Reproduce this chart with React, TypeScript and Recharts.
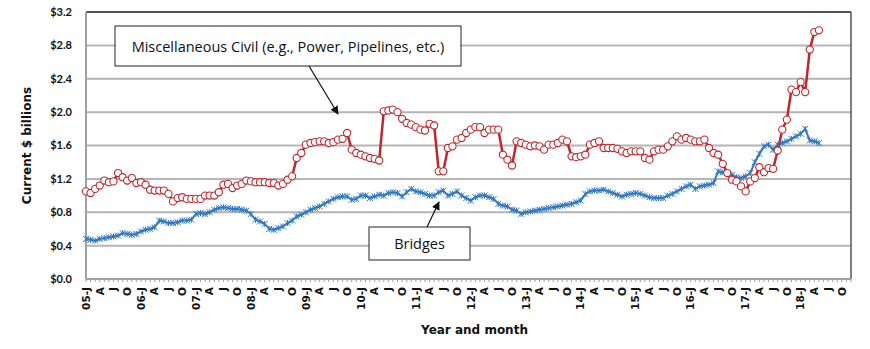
import React from 'react';
import { LineChart, Line, XAxis, YAxis, CartesianGrid, ReferenceLine } from 'recharts';

// monthly, Jan 2005 .. May 2018 (axis runs to Dec 2018)
const years = ['05', '06', '07', '08', '09', '10', '11', '12', '13', '14', '15', '16', '17', '18'];
const quarterLetters = ['J', '', '', 'A', '', '', 'J', '', '', 'O', '', ''];

const misc = [
  1.05, 1.03, 1.08, 1.12, 1.18, 1.16, 1.17, 1.27, 1.22, 1.18, 1.21, 1.15,
  1.16, 1.13, 1.07, 1.06, 1.06, 1.06, 1.02, 0.93, 0.97, 0.98, 0.96, 0.96,
  0.96, 0.96, 1.0, 1.0, 1.0, 1.04, 1.13, 1.14, 1.09, 1.12, 1.14, 1.18,
  1.17, 1.16, 1.16, 1.16, 1.15, 1.15, 1.12, 1.14, 1.19, 1.23, 1.45, 1.51,
  1.61, 1.63, 1.64, 1.65, 1.65, 1.63, 1.64, 1.67, 1.68, 1.75, 1.55, 1.51,
  1.49, 1.47, 1.45, 1.44, 1.42, 2.01, 2.02, 2.03, 2.0, 1.92, 1.87, 1.85,
  1.82, 1.79, 1.78, 1.86, 1.84, 1.29, 1.29, 1.57, 1.59, 1.67, 1.69, 1.75,
  1.79, 1.82, 1.82, 1.75, 1.79, 1.79, 1.79, 1.49, 1.43, 1.36, 1.65, 1.63,
  1.61, 1.59, 1.6, 1.59, 1.55, 1.61, 1.61, 1.63, 1.67, 1.65, 1.47, 1.46,
  1.47, 1.49, 1.61, 1.63, 1.65, 1.57, 1.57, 1.57, 1.56, 1.53, 1.51, 1.53,
  1.53, 1.53, 1.45, 1.43, 1.53, 1.55, 1.55, 1.59, 1.65, 1.71, 1.67, 1.69,
  1.67, 1.65, 1.65, 1.67, 1.57, 1.51, 1.49, 1.38, 1.27, 1.19, 1.17, 1.11,
  1.05, 1.17, 1.21, 1.34, 1.28, 1.33, 1.32, 1.54, 1.79, 1.91, 2.27, 2.24,
  2.36, 2.24, 2.75, 2.96, 2.98,
];

const bridges = [
  0.48, 0.47, 0.46, 0.48, 0.49, 0.5, 0.51, 0.52, 0.55, 0.54, 0.53, 0.54,
  0.57, 0.59, 0.6, 0.62, 0.7, 0.69, 0.67, 0.67, 0.68, 0.7, 0.7, 0.71,
  0.78, 0.79, 0.78, 0.8, 0.83, 0.85, 0.86, 0.85, 0.84, 0.84, 0.83, 0.82,
  0.78, 0.71, 0.69, 0.66, 0.6, 0.59, 0.61, 0.63, 0.67, 0.7, 0.75, 0.77,
  0.8, 0.83, 0.85, 0.87, 0.9, 0.93, 0.96, 0.98, 0.99, 0.99, 0.95, 0.96,
  1.0, 1.0, 0.97, 0.99, 1.01, 1.0, 1.03, 1.04, 1.03, 0.99, 1.04, 1.08,
  1.05, 1.04, 1.02, 1.0, 1.0, 1.04, 1.06, 1.0, 1.02, 1.05, 1.0, 0.97,
  0.94, 0.98, 1.0, 1.0, 0.98, 0.96, 0.9, 0.88, 0.87, 0.83, 0.82, 0.78,
  0.8, 0.81, 0.82, 0.83, 0.84, 0.85, 0.86, 0.87, 0.88, 0.89, 0.9, 0.92,
  0.94, 1.02, 1.05, 1.06, 1.06, 1.07, 1.05, 1.03, 1.01, 0.99, 1.01, 1.02,
  1.03, 1.02, 1.0, 0.98, 0.97, 0.97, 0.97, 1.0, 1.02, 1.05, 1.08, 1.11,
  1.13, 1.08, 1.11, 1.12, 1.13, 1.15, 1.29, 1.28, 1.27, 1.25, 1.22, 1.21,
  1.23, 1.27, 1.4, 1.5, 1.59, 1.61, 1.55, 1.61, 1.63, 1.65, 1.68, 1.71,
  1.74, 1.8, 1.66, 1.65, 1.63,
];

const yTicks = [0, 0.4, 0.8, 1.2, 1.6, 2.0, 2.4, 2.8, 3.2];

const data = years.flatMap((yy, y) =>
  quarterLetters.map((q, m) => {
    const i = y * 12 + m;
    return {
      idx: i,
      label: m === 0 ? `${yy}-J` : q,
      misc: i < misc.length ? misc[i] : null,
      bridges: i < bridges.length ? bridges[i] : null,
    };
  })
);

const RED = '#c0272d';
const BLUE = '#2f78c0';
const TICKFONT = 'Lato, "DejaVu Sans", sans-serif';
const WIDEFONT = '"DejaVu Sans", sans-serif';
const NOTEFONT = '"Open Sans", Lato, sans-serif';

const MonthTick = (props: any) => {
  const { x, y, payload } = props;
  const lab = data[payload.value] ? data[payload.value].label : '';
  if (!lab) return <g />;
  const ty = y + 3;
  return (
    <text
      x={x}
      y={ty}
      transform={`rotate(-90 ${x} ${ty})`}
      textAnchor="end"
      dy="0.36em"
      fontSize={10.5}
      fontWeight={700}
      fontFamily={WIDEFONT}
      fill="#111"
    >
      {lab}
    </text>
  );
};

const CircleDot = (props: any) => {
  const { cx, cy, index } = props;
  if (cy == null || cx == null) return <g key={`c${index}`} />;
  return <circle key={`c${index}`} cx={cx} cy={cy} r={3.6} fill="#fff" stroke={RED} strokeWidth={1.1} />;
};

const StarDot = (props: any) => {
  const { cx, cy, index } = props;
  if (cy == null || cx == null) return <g key={`s${index}`} />;
  const s = 3;
  return (
    <g key={`s${index}`} stroke={BLUE} strokeWidth={1}>
      <line x1={cx - s} y1={cy - s} x2={cx + s} y2={cy + s} />
      <line x1={cx - s} y1={cy + s} x2={cx + s} y2={cy - s} />
      <line x1={cx} y1={cy - s} x2={cx} y2={cy + s} />
    </g>
  );
};

export default function App() {
  return (
    <div style={{ position: 'absolute', left: 0, top: 0, width: 870, height: 349, background: '#fff' }}>
      <LineChart width={870} height={349} data={data} margin={{ top: 12, right: 19, left: 0, bottom: 0 }}>
        <CartesianGrid vertical={false} stroke="#b5b5b5" strokeWidth={2} />
        <XAxis
          dataKey="idx"
          interval={0}
          height={70}
          tick={<MonthTick />}
          tickSize={3}
          tickLine={{ stroke: '#a0a0a0' }}
          axisLine={{ stroke: '#a0a0a0', strokeWidth: 2 }}
          label={{
            value: 'Year and month',
            position: 'insideBottom',
            offset: 15,
            dx: 6,
            fontSize: 12,
            fontWeight: 700,
            fontFamily: WIDEFONT,
            fill: '#111',
          }}
        />
        <YAxis
          width={86}
          domain={[0, 3.2]}
          ticks={yTicks}
          tickFormatter={(v: number) => `$${v.toFixed(1)}`}
          tickLine={false}
          tickMargin={8}
          axisLine={{ stroke: '#a0a0a0', strokeWidth: 2 }}
          tick={{ fontSize: 11, fontWeight: 700, fontFamily: TICKFONT, fill: '#111' }}
          label={{
            value: 'Current $ billions',
            angle: -90,
            position: 'insideLeft',
            offset: 27,
            fontSize: 12,
            fontWeight: 700,
            fontFamily: WIDEFONT,
            fill: '#111',
            style: { textAnchor: 'middle' },
          }}
        />
        <ReferenceLine y={3.2} stroke="#333" strokeWidth={1.5} />
        <ReferenceLine x={167} stroke="#555" strokeWidth={1.5} />
        <Line
          type="linear"
          dataKey="bridges"
          stroke={BLUE}
          strokeWidth={2}
          dot={<StarDot />}
          activeDot={false}
          isAnimationActive={false}
        />
        <Line
          type="linear"
          dataKey="misc"
          stroke={RED}
          strokeWidth={2.5}
          dot={<CircleDot />}
          activeDot={false}
          isAnimationActive={false}
        />
      </LineChart>
      <svg
        width={870}
        height={349}
        style={{ position: 'absolute', left: 0, top: 0, pointerEvents: 'none' }}
        fontFamily={NOTEFONT}
      >
        <defs>
          <marker id="ah" viewBox="0 0 10 10" refX="9" refY="5" markerWidth="7" markerHeight="7" orient="auto">
            <path d="M0,0 L10,5 L0,10 z" fill="#111" />
          </marker>
        </defs>
        <rect x={115} y={26} width={346} height={40} fill="#fff" stroke="#222" strokeWidth={1} />
        <text x={288} y={46} textAnchor="middle" dominantBaseline="central" fontSize={14.5} fill="#111">
          Miscellaneous Civil (e.g., Power, Pipelines, etc.)
        </text>
        <line x1={309} y1={66} x2={338} y2={114} stroke="#111" strokeWidth={1.2} markerEnd="url(#ah)" />
        <rect x={369} y={227} width={101} height={33} fill="#fff" stroke="#222" strokeWidth={1} />
        <text x={419.5} y={243.5} textAnchor="middle" dominantBaseline="central" fontSize={14.5} fill="#111">
          Bridges
        </text>
        <line x1={427} y1={227} x2={439} y2={202} stroke="#111" strokeWidth={1.2} markerEnd="url(#ah)" />
      </svg>
    </div>
  );
}
